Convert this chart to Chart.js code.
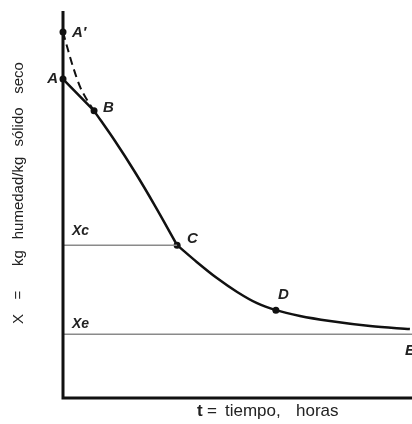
<!DOCTYPE html>
<html>
<head>
<meta charset="utf-8">
<script src="https://cdn.jsdelivr.net/npm/chart.js@4/dist/chart.umd.min.js"></script>
<style>
  html, body { margin: 0; padding: 0; background: #fff; }
  canvas { display: block; }
</style>
</head>
<body>
<canvas id="secado" width="412" height="424"></canvas>
<script>
// curva de secado: X (kg humedad/kg sólido seco) frente a t (horas)
const tramoAB_t = [0, 0.89];
const tramoAB_x = [8.24, 7.42];

// periodo de velocidad constante (B-C)
const tramoBC_t = [0.89, 1.49, 2.06, 2.64, 3.27];
const tramoBC_x = [7.42, 6.64, 5.84, 4.96, 3.95];

// periodo de velocidad decreciente (C-E)
const tramoCE_t = [3.27, 3.84, 4.41, 4.99, 5.56, 6.10, 6.79, 7.65, 8.80, 9.94];
const tramoCE_x = [3.95, 3.51, 3.10, 2.74, 2.45, 2.27, 2.12, 1.99, 1.86, 1.78];

// arranque alternativo desde A' (línea de trazos)
const inicioT = [0, 0.12, 0.29, 0.49, 0.69, 0.89];
const inicioX = [9.46, 9.07, 8.55, 8.04, 7.70, 7.42];

// humedad crítica y de equilibrio
const Xc = 3.95;
const Xe = 1.65;
const tC = 3.27;
const tMax = 10;

// puntos con nombre
const etiquetas = ["A\u2032", "A", "B", "C", "D", "E"];
const etiquetaT = [0, 0, 0.89, 3.27, 6.10, 9.94];
const etiquetaX = [9.46, 8.24, 7.42, 3.95, 2.27, 1.78];
const conPunto = [true, true, true, true, true, false];

const pares = (ts, xs) => ts.map((t, i) => ({ x: t, y: xs[i] }));

// desplazamientos de cada rótulo respecto a su punto (px)
const desplaz = [[9, 1, "left"], [-5, 0, "right"], [9, -3, "left"], [10, -6, "left"],
                 [2, -15, "left"], [-5, 22, "left"]];

// título del eje Y, palabra a palabra (centro en px, de abajo arriba)
const tituloY = [["X", 319], ["=", 295], ["kg", 258], ["humedad/kg", 198], ["sólido", 127], ["seco", 78]];

const rotulos = {
  id: "rotulos",
  afterDraw(chart) {
    const ctx = chart.ctx;
    const a = chart.chartArea;
    const sx = chart.scales.x, sy = chart.scales.y;
    ctx.save();

    // ejes
    ctx.strokeStyle = "#111";
    ctx.lineWidth = 3;
    ctx.beginPath();
    ctx.moveTo(a.left, a.top);
    ctx.lineTo(a.left, a.bottom);
    ctx.lineTo(a.right, a.bottom);
    ctx.stroke();

    // letras de los puntos
    ctx.fillStyle = "#222";
    ctx.font = "italic bold 15px 'Liberation Sans'";
    ctx.textBaseline = "middle";
    etiquetas.forEach((txt, i) => {
      const [dx, dy, al] = desplaz[i];
      ctx.textAlign = al;
      ctx.fillText(txt, sx.getPixelForValue(etiquetaT[i]) + dx, sy.getPixelForValue(etiquetaX[i]) + dy);
    });
    ctx.textAlign = "left";
    ctx.font = "italic bold 14px 'Liberation Sans'";
    ctx.fillText("Xc", a.left + 9, sy.getPixelForValue(Xc) - 14);
    ctx.fillText("Xe", a.left + 9, sy.getPixelForValue(Xe) - 10);

    // título eje Y
    ctx.font = "15px 'Liberation Sans'";
    ctx.fillStyle = "#222";
    ctx.textAlign = "center";
    tituloY.forEach(([w, c]) => {
      ctx.save();
      ctx.translate(19, c);
      ctx.rotate(-Math.PI / 2);
      ctx.fillText(w, 0, 0);
      ctx.restore();
    });
    ctx.restore();

    // título eje X
    ctx.save();
    ctx.fillStyle = "#222";
    ctx.textBaseline = "alphabetic";
    ctx.textAlign = "left";
    ctx.font = "bold 17px 'Liberation Sans'";
    ctx.fillText("t", 197, 416);
    ctx.font = "17px 'Liberation Sans'";
    ctx.fillText("=", 207, 416);
    ctx.fillText("tiempo,", 225, 416);
    ctx.fillText("horas", 296, 416);
    ctx.restore();
  }
};

const trazo = { borderColor: "#111", borderWidth: 2.5, pointRadius: 0, cubicInterpolationMode: "monotone" };

new Chart(document.getElementById("secado"), {
  type: "line",
  data: {
    datasets: [
      {
        data: [{ x: 0, y: Xc }, { x: tC, y: Xc }],
        borderColor: "#8a8a8a", borderWidth: 1.5, pointRadius: 0
      },
      {
        data: [{ x: 0, y: Xe }, { x: tMax, y: Xe }],
        borderColor: "#8a8a8a", borderWidth: 1.5, pointRadius: 0
      },
      {
        data: pares(inicioT, inicioX),
        borderColor: "#111", borderWidth: 2, borderDash: [8, 5],
        cubicInterpolationMode: "monotone", pointRadius: 0
      },
      { ...trazo, data: pares(tramoAB_t, tramoAB_x) },
      { ...trazo, data: pares(tramoBC_t, tramoBC_x) },
      { ...trazo, data: pares(tramoCE_t, tramoCE_x) },
      {
        data: pares(etiquetaT, etiquetaX).filter((p, i) => conPunto[i]),
        showLine: false, pointRadius: 3.5, pointBackgroundColor: "#111",
        pointBorderColor: "#111", pointBorderWidth: 0
      }
    ]
  },
  options: {
    responsive: false,
    animation: false,
    devicePixelRatio: 1,
    layout: { autoPadding: false, padding: { left: 63, top: 11, right: 0, bottom: 26 } },
    datasets: { line: { clip: false } },
    plugins: { legend: { display: false }, tooltip: { enabled: false } },
    scales: {
      x: { type: "linear", min: 0, max: tMax, display: false },
      y: { min: 0, max: 10, display: false }
    }
  },
  plugins: [rotulos]
});
</script>
</body>
</html>
